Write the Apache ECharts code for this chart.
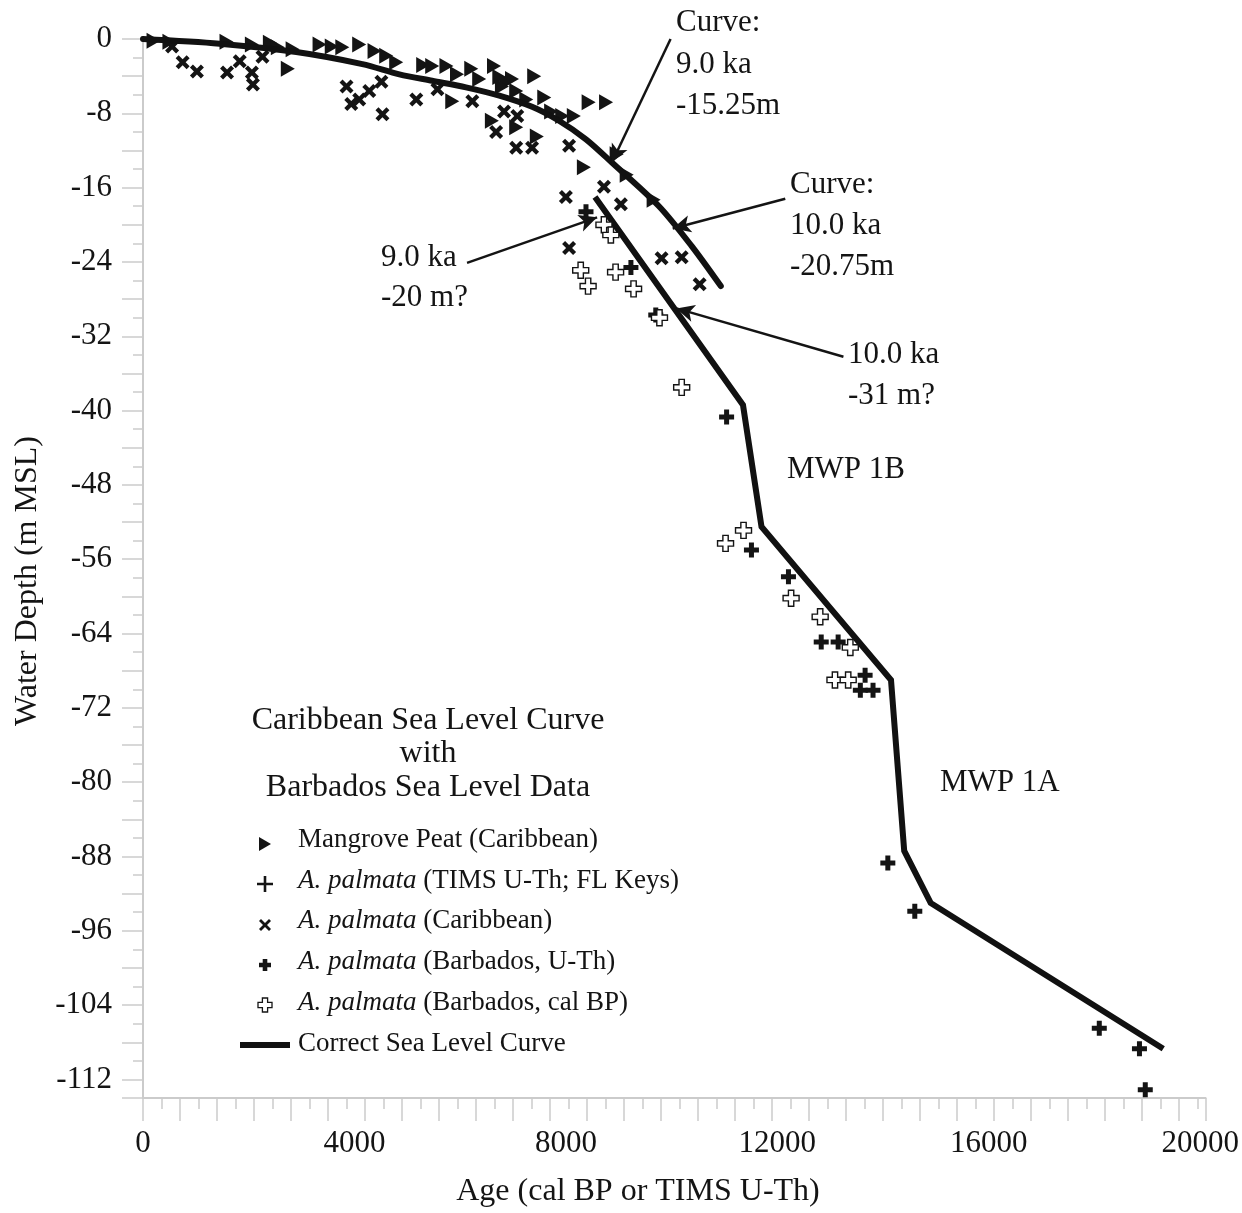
<!DOCTYPE html>
<html><head><meta charset="utf-8">
<script src="https://cdn.jsdelivr.net/npm/echarts@6/dist/echarts.min.js"></script>
<style>html,body{margin:0;padding:0;background:#fff}#c{width:1242px;height:1213px}</style>
</head><body><div id="c"></div><script>
// ---- data (age in years BP, depth in m relative to MSL) ----
const mangrovePeat = [[200,-0.2],[500,-0.3],[1580,-0.3],[2060,-0.6],[2400,-0.4],[2550,-0.9],[2830,-1.1],[2740,-3.2],[3340,-0.6],[3570,-0.8],[3770,-0.9],[4090,-0.6],[4380,-1.3],[4600,-1.8],[4790,-2.5],[5300,-2.8],[5470,-2.9],[5740,-2.9],[5940,-3.8],[6210,-3.2],[6360,-4.3],[5850,-6.7],[6640,-2.9],[6740,-4.1],[6870,-4.6],[6980,-4.3],[6790,-5.1],[7060,-5.6],[7400,-4.0],[7250,-6.5],[7590,-6.3],[7720,-7.8],[7930,-8.3],[8150,-8.3],[8430,-6.8],[8760,-6.8],[6600,-8.8],[7060,-9.5],[7450,-10.5],[8340,-13.8],[8960,-12.4],[9150,-14.6],[9660,-17.3]];
const palmataFLKeys = [];
const palmataCaribbean = [[550,-0.8],[750,-2.5],[1020,-3.5],[1590,-3.6],[1830,-2.4],[2060,-3.6],[2080,-4.9],[2260,-1.9],[3850,-5.1],[3940,-7.0],[4090,-6.5],[4280,-5.6],[4510,-4.6],[4530,-8.1],[5170,-6.5],[5570,-5.4],[6230,-6.7],[6830,-7.8],[6680,-10.0],[7080,-8.3],[7060,-11.7],[7360,-11.7],[8060,-11.5],[8000,-17.0],[8720,-15.9],[9040,-17.8],[8060,-22.5],[9810,-23.6],[10190,-23.5],[10530,-26.4]];
const barbadosUTh = [[8380,-18.6],[9230,-24.6],[9700,-29.7],[11040,-40.7],[11510,-55.0],[12210,-57.9],[12830,-64.9],[13150,-64.9],[13660,-68.5],[13570,-70.1],[13810,-70.1],[14090,-88.7],[14600,-93.9],[18090,-106.5],[18850,-108.7],[18960,-113.1]];
const barbadosCalBP = [[8720,-20.0],[8850,-21.1],[8280,-24.9],[8420,-26.6],[8940,-25.1],[9280,-26.9],[9770,-30.0],[10190,-37.5],[11360,-52.9],[11020,-54.3],[12260,-60.2],[12810,-62.2],[13380,-65.5],[13090,-69.0],[13340,-69.0]];
const caribbeanCurve = [[0,0],[1450,-0.5],[2900,-1.4],[4150,-2.7],[4850,-3.8],[5470,-4.5],[6110,-5.2],[6740,-6.1],[7360,-7.3],[7870,-8.8],[8380,-10.8],[8870,-13.3],[9760,-18.0],[10380,-22.3],[10930,-26.6]];
const correctCurve = [[8550,-17.0],[11350,-39.4],[11700,-52.5],[14150,-69.0],[14400,-87.4],[14900,-93.0],[19300,-108.7]];
const annotationArrows = [[[9980,0],[8870,-13.3]],[[12150,-17.2],[10020,-20.4]],[[6130,-24.1],[8590,-19.2]],[[13250,-34.2],[10090,-29.0]]];
const xLabelStep = 4000;
const yLabelStep = 8;

// depth axis is drawn inverted with positive depth, labels show negative values
const toXY = p => [p[0], -p[1]];
const FONT = '"Liberation Serif","DejaVu Serif",serif';
const INK = '#141414';
const AX = '#cbcbcb';

const triPath = 'path://M0,0L12,7L0,14Z';
const crossPath = 'path://M0,3L3,0L7,4L11,0L14,3L10,7L14,11L11,14L7,10L3,14L0,11L4,7Z';
const plusPath = 'path://M4,0L8,0L8,4L12,4L12,8L8,8L8,12L4,12L4,8L0,8L0,4L4,4Z';
const thinPlusPath = 'path://M5,0L7,0L7,5L12,5L12,7L7,7L7,12L5,12L5,7L0,7L0,5L5,5Z';

function plusPts(cx, cy, r, t){
  return [[cx-t,cy-r],[cx+t,cy-r],[cx+t,cy-t],[cx+r,cy-t],[cx+r,cy+t],[cx+t,cy+t],[cx+t,cy+r],[cx-t,cy+r],[cx-t,cy+t],[cx-r,cy+t],[cx-r,cy-t],[cx-t,cy-t]];
}
function crossPts(cx, cy, r, t){
  return [[cx-r,cy-r+t],[cx-r+t,cy-r],[cx,cy-t],[cx+r-t,cy-r],[cx+r,cy-r+t],[cx+t,cy],[cx+r,cy+r-t],[cx+r-t,cy+r],[cx,cy+t],[cx-r+t,cy+r],[cx-r,cy+r-t],[cx-t,cy]];
}
function txt(x, y, s, size, align, extra){
  return Object.assign({type:'text', x:x, y:y, silent:true,
    style:{text:s, fontSize:size, fontFamily:FONT, fill:INK, align:align||'left', verticalAlign:'middle',
      rich:{i:{fontStyle:'italic', fontSize:size, fontFamily:FONT, fill:INK}, n:{fontSize:size, fontFamily:FONT, fill:INK}}}}, extra||{});
}

const graphics = [
  txt(28, 581, 'Water Depth (m MSL)', 32, 'center', {rotation: Math.PI/2}),
  txt(638, 1192, 'Age (cal BP or TIMS U-Th)', 32, 'center'),
  txt(676, 23, 'Curve:', 31), txt(676, 65, '9.0 ka', 31), txt(676, 106, '-15.25m', 31),
  txt(790, 185, 'Curve:', 31), txt(790, 226, '10.0 ka', 31), txt(790, 267, '-20.75m', 31),
  txt(381, 258, '9.0 ka', 31), txt(381, 298, '-20 m?', 31),
  txt(848, 355, '10.0 ka', 31), txt(848, 396, '-31 m?', 31),
  txt(787, 470, 'MWP 1B', 31), txt(940, 783, 'MWP 1A', 31),
  txt(428, 721, 'Caribbean Sea Level Curve', 32, 'center'),
  txt(428, 754, 'with', 32, 'center'),
  txt(428, 788, 'Barbados Sea Level Data', 32, 'center'),
  txt(298, 840, 'Mangrove Peat (Caribbean)', 27),
  txt(298, 881, '{i|A. palmata}{n| (TIMS U-Th; FL Keys)}', 27),
  txt(298, 921, '{i|A. palmata}{n| (Caribbean)}', 27),
  txt(298, 962, '{i|A. palmata}{n| (Barbados, U-Th)}', 27),
  txt(298, 1003, '{i|A. palmata}{n| (Barbados, cal BP)}', 27),
  txt(298, 1044, 'Correct Sea Level Curve', 27),
  {type:'polygon', silent:true, shape:{points:[[259,837],[271,844],[259,851]]}, style:{fill:INK}},
  {type:'polygon', silent:true, shape:{points:plusPts(265,884,8,1.3)}, style:{fill:INK}},
  {type:'polygon', silent:true, shape:{points:crossPts(265,925,6,2)}, style:{fill:INK}},
  {type:'polygon', silent:true, shape:{points:plusPts(265,965,6,2.3)}, style:{fill:INK}},
  {type:'polygon', silent:true, shape:{points:plusPts(265,1005,7,2.6)}, style:{fill:'#fff', stroke:INK, lineWidth:1.3}},
  {type:'line', silent:true, shape:{x1:240,y1:1045,x2:290,y2:1045}, style:{stroke:'#111', lineWidth:6}}
];

const chart = echarts.init(document.getElementById('c'));
chart.setOption({
  backgroundColor:'#fff',
  animation:false,
  grid:{left:143, right:34, top:39, bottom:115},
  xAxis:[
    {type:'value', min:0, max:20100, interval:xLabelStep,
     axisLine:{onZero:false, lineStyle:{color:AX, width:2}}, axisTick:{show:false}, splitLine:{show:false},
     axisLabel:{margin:30, fontSize:31, fontFamily:FONT, color:INK, formatter:v => (v % xLabelStep === 0 ? String(v) : '')}},
    {type:'value', min:0, max:20100, interval:700, position:'bottom',
     axisLine:{show:false, onZero:false}, axisLabel:{show:false}, splitLine:{show:false},
     axisTick:{length:23, lineStyle:{color:AX, width:1.5}},
     minorTick:{show:true, splitNumber:2, length:11, lineStyle:{color:AX, width:1.5}}}
  ],
  yAxis:{type:'value', inverse:true, min:0, max:114, interval:4,
    axisLine:{onZero:false, lineStyle:{color:AX, width:2}}, splitLine:{show:false},
    axisTick:{length:21, lineStyle:{color:AX, width:1.5}},
    minorTick:{show:true, splitNumber:2, length:10, lineStyle:{color:AX, width:1.5}},
    axisLabel:{margin:31, fontSize:31, fontFamily:FONT, color:INK,
      formatter:v => (v % yLabelStep === 0 && v <= 112 ? (v === 0 ? '0' : '-' + v) : '')}},
  graphic:graphics,
  series:[
    {name:'Mangrove Peat (Caribbean)', type:'scatter', data:mangrovePeat.map(toXY), symbol:triPath, symbolSize:[14,16], itemStyle:{color:INK, opacity:1}, z:2},
    {name:'A. palmata (TIMS U-Th; FL Keys)', type:'scatter', data:palmataFLKeys.map(toXY), symbol:thinPlusPath, symbolSize:16, itemStyle:{color:INK, opacity:1}, z:2},
    {name:'A. palmata (Caribbean)', type:'scatter', data:palmataCaribbean.map(toXY), symbol:crossPath, symbolSize:14, itemStyle:{color:INK, opacity:1}, z:2},
    {name:'A. palmata (Barbados, U-Th)', type:'scatter', data:barbadosUTh.map(toXY), symbol:plusPath, symbolSize:15, itemStyle:{color:INK, opacity:1}, z:2},
    {name:'Caribbean Curve', type:'line', data:caribbeanCurve.map(toXY), smooth:0.3, showSymbol:false, symbol:'none',
     lineStyle:{color:'#111', width:6, cap:'round'}, z:3, silent:true,
     markLine:{silent:true, symbol:['none','arrow'], symbolSize:[13,18], label:{show:false},
       lineStyle:{color:INK, width:2.5, type:'solid'},
       data:annotationArrows.map(a => [{coord:toXY(a[0])},{coord:toXY(a[1])}])}},
    {name:'Correct Sea Level Curve', type:'line', data:correctCurve.map(toXY), showSymbol:false, symbol:'none',
     lineStyle:{color:'#111', width:6, join:'miter'}, z:3, silent:true},
    {name:'A. palmata (Barbados, cal BP)', type:'scatter', data:barbadosCalBP.map(toXY), symbol:plusPath, symbolSize:16,
     itemStyle:{color:'#fff', borderColor:INK, borderWidth:1.4, opacity:1}, z:4}
  ]
});
</script></body></html>
